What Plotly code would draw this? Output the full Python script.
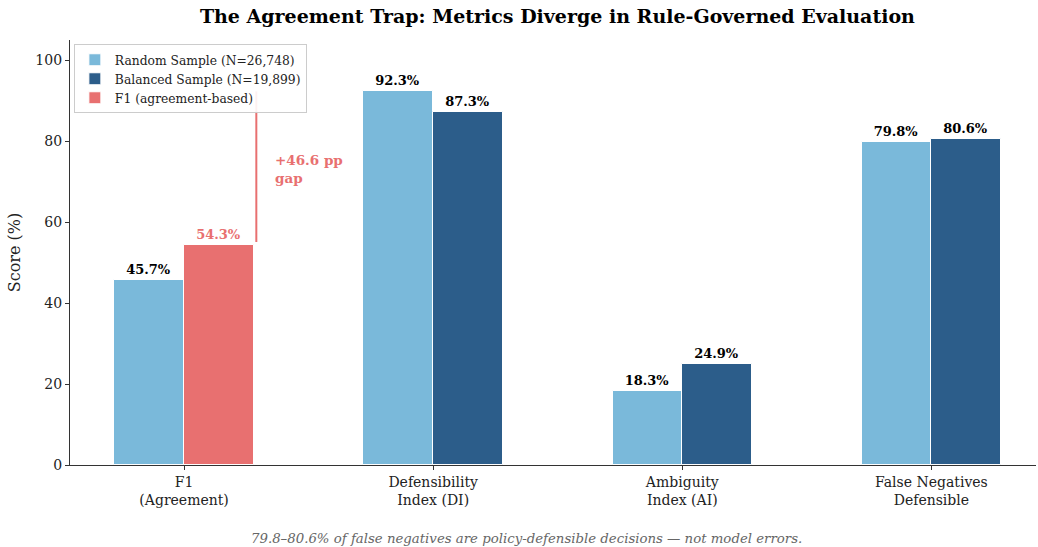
import plotly.graph_objects as go

categories = ["F1<br>(Agreement)", "Defensibility<br>Index (DI)", "Ambiguity<br>Index (AI)", "False Negatives<br>Defensible"]
random_vals = [45.7, 92.3, 18.3, 79.8]
balanced_cats = [1, 2, 3]
balanced_vals = [87.3, 24.9, 80.6]
f1_cats = [0]
f1_vals = [54.3]
gap_value = 46.6
gap_top = 92.3

C_RAND = "#7AB9DA"
C_BAL = "#2C5D8A"
C_F1 = "#E87070"
FONT = "DejaVu Serif, Liberation Serif, serif"
W = 0.28

fig = go.Figure()
fig.add_trace(go.Bar(
    x=list(range(len(categories))), y=random_vals, name="Random Sample (N=26,748)",
    offset=-W, width=W, marker=dict(color=C_RAND, line=dict(color="white", width=1)),
    text=[f"<b>{v:.1f}%</b>" for v in random_vals], textposition="outside",
    textfont=dict(color="black", size=13, family=FONT), cliponaxis=False))
fig.add_trace(go.Bar(
    x=balanced_cats, y=balanced_vals, name="Balanced Sample (N=19,899)",
    offset=0, width=W, marker=dict(color=C_BAL, line=dict(color="white", width=1)),
    text=[f"<b>{v:.1f}%</b>" for v in balanced_vals], textposition="outside",
    textfont=dict(color="black", size=13, family=FONT), cliponaxis=False))
fig.add_trace(go.Bar(
    x=f1_cats, y=f1_vals, name="F1 (agreement-based)",
    offset=0, width=W, marker=dict(color=C_F1, line=dict(color="white", width=1)),
    text=[f"<b>{v:.1f}%</b>" for v in f1_vals], textposition="outside",
    textfont=dict(color=C_F1, size=13, family=FONT), cliponaxis=False))

# gap line
fig.add_shape(type="line", x0=0.29, x1=0.29, y0=f1_vals[0] + 0.8, y1=gap_top,
              line=dict(color=C_F1, width=2), layer="below")
fig.add_annotation(x=0.355, y=73.2, text=f"<b>+{gap_value:.1f} pp<br>gap</b>", showarrow=False,
                   xanchor="left", yanchor="middle", align="left",
                   font=dict(color=C_F1, size=13.5, family=FONT))

fig.add_annotation(x=0.473, y=0, xref="paper", yref="paper", yshift=-64, xanchor="center", yanchor="top",
                   text="79.8–80.6% of false negatives are policy-defensible decisions — not model errors.",
                   showarrow=False, font=dict(color="#666666", size=13.3, family=FONT, style="italic"))

fig.update_layout(
    width=1038, height=547,
    barmode="overlay",
    plot_bgcolor="white", paper_bgcolor="white",
    font=dict(family=FONT, color="#222222"),
    margin=dict(l=70, r=2, t=40, b=82),
    title=dict(text="<b>The Agreement Trap: Metrics Diverge in Rule-Governed Evaluation</b>",
               x=0.537, xanchor="center", y=0.971, yanchor="middle",
               font=dict(size=19, family=FONT, color="black")),
    xaxis=dict(range=[-0.458, 3.42], tickvals=list(range(len(categories))), ticktext=categories,
               showline=True, linecolor="#333333", linewidth=1.2, ticks="outside", ticklen=4,
               tickcolor="#333333", showgrid=False, zeroline=False,
               tickfont=dict(size=14, family=FONT, color="#222222")),
    yaxis=dict(range=[0, 105], tickvals=[0, 20, 40, 60, 80, 100],
               showline=True, linecolor="#333333", linewidth=1.2, ticks="outside", ticklen=4,
               tickcolor="#333333", showgrid=False, zeroline=False,
               title=dict(text="Score (%)", font=dict(size=16, family=FONT), standoff=10),
               tickfont=dict(size=14, family=FONT, color="#222222")),
    legend=dict(x=0.004, y=0.99, xanchor="left", yanchor="top",
                bgcolor="rgba(255,255,255,0.9)", bordercolor="#cccccc", borderwidth=1,
                font=dict(size=12.3, family=FONT, color="#222222"), tracegroupgap=0,
                itemwidth=30),
    bargap=0,
)

fig.write_html("out.html", config={"displayModeBar": False},
               post_script="document.body.style.margin='0';")
